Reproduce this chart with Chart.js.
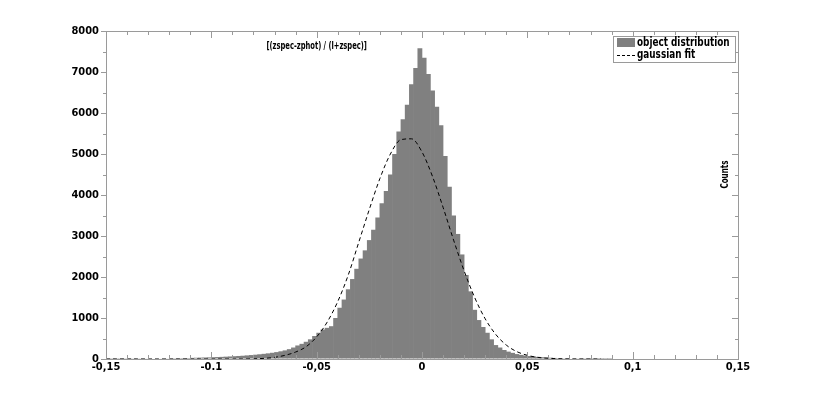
<!DOCTYPE html>
<html>
<head>
<meta charset="utf-8">
<script src="https://cdn.jsdelivr.net/npm/chart.js@4/dist/chart.umd.min.js"></script>
<style>
  html, body { margin: 0; padding: 0; background: #fff; }
  #wrap { width: 817px; height: 404px; position: relative; }
</style>
</head>
<body>
<div id="wrap"><canvas id="c"></canvas></div>
<script>
// ---- data ----
const binStart = -0.15;
const binWidth = 0.002;
const counts = [
  5,5,6,6,7,7,8,8,9,10,
  11,12,13,14,15,17,19,21,23,25,
  28,31,34,37,40,44,48,52,57,62,
  68,74,80,88,96,105,115,126,138,152,
  168,188,210,240,280,
  330,370,420,480,560,640,720,760,800,1000,
  1250,1450,1700,1950,2200,2450,2650,2900,3150,3450,
  3800,4100,4500,5000,5550,5850,6200,6700,7100,7580,
  7350,6950,6550,6150,5700,4950,4200,3500,3050,2550,
  2050,1650,1200,950,780,640,480,340,280,220,
  180,150,120,100,85,72,62,52,44,37,
  31,26,22,18,15,12,10,8,6,5,
  4,3,2,2,1,
  0,0,0,0,0,0,0,0,0,0,
  0,0,0,0,0,0,0,0,0,0,
  0,0,0,0,0,0,0,0,0,0
];
const fitX = [
  -0.15,-0.145,-0.14,-0.135,-0.13,-0.125,-0.12,-0.115,-0.11,-0.105,-0.1,-0.095,-0.09,-0.085,
  -0.08,-0.075,-0.07,-0.065,-0.06,-0.055,-0.05,-0.045,-0.04,-0.035,-0.03,-0.025,-0.02,-0.015,-0.01,-0.005,
  0,0.005,0.01,0.015,0.02,0.025,0.03,0.035,0.04,0.045,0.05,0.055,0.06,0.065,0.07,0.075,0.08,0.085
];
const fitY = [
  0,0,0,0,0,0,0,0,0,0,0,0,0,0,
  5,15,40,90,170,300,540,900,1400,2050,2850,3650,4400,5000,5350,5370,
  5050,4450,3700,2900,2150,1500,980,600,340,180,90,40,18,7,3,1,0,0
];
const xTickLabels = ["-0,15","-0.1","-0,05","0","0,05","0,1","0,15"];
const xTickValues = [-0.15,-0.1,-0.05,0,0.05,0.1,0.15];
const yTicks = [0,1000,2000,3000,4000,5000,6000,7000,8000];
const axisTitle = "[(zspec-zphot) / (l+zspec)]";
const yTitle = "Counts";
const legendLabels = ["object distribution", "gaussian fit"];

// ---- build ----
const binCenters = counts.map((_, i) => binStart + binWidth * (i + 0.5));
const barData = binCenters.map((c, i) => ({ x: c, y: counts[i] }));
const fitData = fitX.map((x, i) => ({ x: x, y: fitY[i] }));

const FONT = "'Liberation Sans Narrow', 'DejaVu Sans Condensed', 'Liberation Sans', Arial, sans-serif";
const GRAY = '#808080';
const AXIS = '#9a9a9a';

function condensedText(ctx, text, x, y, sx) {
  ctx.save();
  ctx.translate(x, y);
  ctx.scale(sx, 1);
  ctx.fillText(text, 0, 0);
  ctx.restore();
}

const decorations = {
  id: 'decorations',
  afterDraw(chart) {
    const ctx = chart.ctx;
    const xs = chart.scales.x, ys = chart.scales.y;
    const a = chart.chartArea;
    ctx.save();
    // frame
    ctx.strokeStyle = AXIS;
    ctx.lineWidth = 1;
    ctx.strokeRect(Math.round(a.left) + 0.5, Math.round(a.top) + 0.5,
                   Math.round(a.right - a.left), Math.round(a.bottom - a.top));
    // x minor/major ticks (inside, top and bottom)
    ctx.beginPath();
    for (let k = -15; k <= 15; k++) {
      const px = Math.round(xs.getPixelForValue(k / 100)) + 0.5;
      const len = (k % 5 === 0) ? 7 : 4;
      ctx.moveTo(px, a.bottom); ctx.lineTo(px, a.bottom - len);
      ctx.moveTo(px, a.top); ctx.lineTo(px, a.top + len);
    }
    // y ticks: left outside minor, right inside
    for (let k = 0; k <= 16; k++) {
      const py = Math.round(ys.getPixelForValue(k * 500)) + 0.5;
      const len = (k % 2 === 0) ? 6 : 3;
      if (k % 2 === 1) { ctx.moveTo(a.left, py); ctx.lineTo(a.left - 3, py); }
      ctx.moveTo(a.right, py); ctx.lineTo(a.right - len, py);
    }
    ctx.stroke();

    // axis title (inside plot, top)
    ctx.fillStyle = '#000';
    ctx.font = "bold 10px " + FONT;
    ctx.textAlign = 'center';
    ctx.textBaseline = 'middle';
    condensedText(ctx, axisTitle, xs.getPixelForValue(-0.05), a.top + 15, 0.75);

    // Counts (rotated)
    ctx.save();
    ctx.translate(a.right - 13, ys.getPixelForValue(4500));
    ctx.rotate(-Math.PI / 2);
    ctx.scale(0.8, 1);
    ctx.fillText(yTitle, 0, 0);
    ctx.restore();

    // legend box
    const lx = a.right - 125, ly = a.top + 5, lw = 122, lh = 26;
    ctx.fillStyle = '#fff';
    ctx.fillRect(lx, ly, lw, lh);
    ctx.strokeStyle = AXIS;
    ctx.strokeRect(Math.round(lx) + 0.5, Math.round(ly) + 0.5, lw, lh);
    ctx.fillStyle = GRAY;
    ctx.fillRect(lx + 4, ly + 2, 18, 9);
    ctx.strokeStyle = '#000';
    ctx.setLineDash([3, 2]);
    ctx.beginPath();
    ctx.moveTo(lx + 4, ly + 19.5); ctx.lineTo(lx + 22, ly + 19.5);
    ctx.stroke();
    ctx.setLineDash([]);
    ctx.fillStyle = '#000';
    ctx.font = "bold 12px " + FONT;
    ctx.textAlign = 'left';
    condensedText(ctx, legendLabels[0], lx + 24, ly + 7, 0.82);
    condensedText(ctx, legendLabels[1], lx + 24, ly + 19, 0.82);
    ctx.restore();
  }
};

new Chart(document.getElementById('c'), {
  type: 'bar',
  data: {
    datasets: [
      {
        type: 'line',
        label: legendLabels[1],
        data: fitData,
        borderColor: '#000',
        borderWidth: 1,
        borderDash: [4, 3],
        pointRadius: 0,
        fill: false,
        cubicInterpolationMode: 'monotone',
        order: 0
      },
      {
        type: 'bar',
        label: legendLabels[0],
        data: barData,
        backgroundColor: GRAY,
        borderWidth: 0,
        inflateAmount: 0,
        barPercentage: 1.15,
        categoryPercentage: 1,
        order: 1
      }
    ]
  },
  options: {
    responsive: true,
    maintainAspectRatio: false,
    animation: false,
    layout: { padding: { left: 0, right: 79, top: 31, bottom: 0 } },
    plugins: { legend: { display: false }, tooltip: { enabled: false } },
    scales: {
      x: {
        type: 'linear',
        min: -0.15, max: 0.15,
        offset: false,
        afterFit(s) { s.height = 45; },
        afterBuildTicks(s) { s.ticks = xTickValues.map(v => ({ value: v })); },
        grid: { display: false, drawTicks: false, offset: false },
        border: { display: false },
        ticks: {
          padding: 2,
          autoSkip: false,
          maxRotation: 0,
          color: '#000',
          font: { family: FONT, size: 11, weight: 'bold' },
          callback(v) {
            const i = xTickValues.findIndex(t => Math.abs(t - v) < 1e-9);
            return i >= 0 ? xTickLabels[i] : '';
          }
        }
      },
      y: {
        min: 0, max: 8000,
        afterFit(s) { s.width = 106; },
        afterBuildTicks(s) { s.ticks = yTicks.map(v => ({ value: v })); },
        grid: { drawOnChartArea: false, drawTicks: true, tickLength: 5, color: AXIS },
        border: { display: false },
        ticks: {
          padding: 2,
          color: '#000',
          font: { family: FONT, size: 11, weight: 'bold' },
          callback(v) { return String(v); }
        }
      }
    }
  },
  plugins: [decorations]
});
</script>
</body>
</html>
